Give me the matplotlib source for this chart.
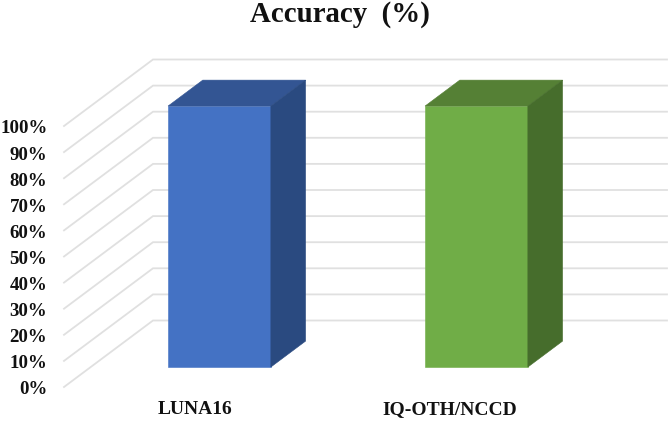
import matplotlib
matplotlib.use("Agg")
import matplotlib.pyplot as plt
from matplotlib.patches import Polygon
from matplotlib.transforms import ScaledTranslation

plt.rcParams["font.family"] = ["Liberation Serif", "DejaVu Serif"]

categories = ["LUNA16", "IQ-OTH/NCCD"]
accuracy = [100, 100]
y_ticks = [0, 10, 20, 30, 40, 50, 60, 70, 80, 90, 100]
front_colors = ["#4472C4", "#70AD47"]
top_colors = ["#335593", "#558035"]
side_colors = ["#2A4A80", "#466D2C"]

W, H = 670, 421
fig = plt.figure(figsize=(W / 100, H / 100), dpi=100)

# Plot plane in pixels: category band 257 px wide, 2.61 px per percent
PX_X, PX_Y = 257.0, 2.61
LEFT, BASE = 64.0, 387.0
ax = fig.add_axes([LEFT / W, (H - BASE) / H, 603.0 / W, 328.0 / H])
ax.set_xlim(0, 603.0 / PX_X)
ax.set_ylim(0, 328.0 / PX_Y)

# Oblique projection: depth 0 is the front of the floor, depth 1 the back wall
DX, DY = 89.0 / PX_X, 66.5 / PX_Y


def project(x, y, d):
    return x + d * DX, y + d * DY


# Wall and floor gridlines
for tick in y_ticks:
    xs, ys = zip(project(0, tick, 0), project(0, tick, 1), project(2, tick, 1))
    ax.plot(xs, ys, color="#E0E0E0", lw=1.3, solid_joinstyle="miter", zorder=1, clip_on=False)

# Oblique column for each category
BAR_W = 0.40
D0, D1 = 0.30, 0.69
for i, value in enumerate(accuracy):
    x0 = i + 0.5 - BAR_W / 2 + 0.001
    x1 = x0 + BAR_W
    faces = [
        ([(x0, 0, D0), (x1, 0, D0), (x1, value, D0), (x0, value, D0)], front_colors[i]),
        ([(x0, value, D0), (x1, value, D0), (x1, value, D1), (x0, value, D1)], top_colors[i]),
        ([(x1, 0, D0), (x1, 0, D1), (x1, value, D1), (x1, value, D0)], side_colors[i]),
    ]
    for corners, color in faces:
        ax.add_patch(Polygon([project(*c) for c in corners], closed=True, facecolor=color,
                             edgecolor=color, lw=0.4, zorder=3, clip_on=False))

# Percentage labels on the value axis, nudged down to sit level with the line ends
ax.set_yticks(y_ticks)
ax.set_yticklabels([f"{t}%" for t in y_ticks], fontsize=13.6, fontweight="bold", color="#111111")
ax.tick_params(axis="y", length=0, pad=12)
nudge = ScaledTranslation(0, -3 / 100, fig.dpi_scale_trans)
for label in ax.get_yticklabels():
    label.set_verticalalignment("center")
    label.set_transform(label.get_transform() + nudge)
ax.set_xticks([])
for spine in ax.spines.values():
    spine.set_visible(False)

# Category labels sit under their columns
label_x = [0.51, 1.50]
for x, text in zip(label_x, categories):
    ax.annotate(text, xy=(x, 0), xycoords=("data", "axes fraction"), xytext=(0, -16.5),
                textcoords="offset points", ha="center", va="center",
                fontsize=14, fontweight="bold", color="#111111")

fig.text(339.5 / W, 1 - 14.5 / H, "Accuracy  (%)", ha="center", va="center",
         fontsize=20.8, fontweight="bold", color="#111111")

fig.savefig("out.png", dpi=100)
